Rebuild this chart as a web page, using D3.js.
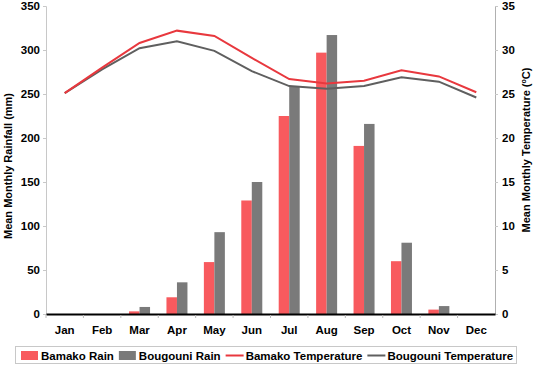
<!DOCTYPE html>
<html>
<head>
<meta charset="utf-8">
<script src="https://cdn.jsdelivr.net/npm/d3@7"></script>
<style>
  body { margin: 0; background: #fff; }
  text { font-family: "Liberation Sans", Arial, sans-serif; font-weight: bold; fill: #000; }
</style>
</head>
<body>
<div id="chart"></div>
<script>
const months = ["Jan","Feb","Mar","Apr","May","Jun","Jul","Aug","Sep","Oct","Nov","Dec"]
const bamakoRain = [0, 0, 3, 19, 59, 129, 225, 297, 191, 60, 5, 0]
const bougouniRain = [0, 0, 8, 36, 93, 150, 259, 317, 216, 81, 9, 0]
const bamakoTemp = [25.1, 28.0, 30.8, 32.2, 31.6, 29.1, 26.7, 26.2, 26.5, 27.7, 27.0, 25.2]
const bougouniTemp = [25.1, 27.8, 30.2, 31.0, 29.9, 27.6, 25.9, 25.6, 25.9, 26.9, 26.4, 24.6]
const rainTicks = [0, 50, 100, 150, 200, 250, 300, 350]
const tempTicks = [0, 5, 10, 15, 20, 25, 30, 35]

const CRED = "#f85a5e"
const CGRAY = "#7a7a7a"
const CREDLINE = "#e8383e"
const CGRAYLINE = "#5f5f5f"

const width = 536, height = 366
const mLeft = 46, mRight = 495, mTop = 6, mBottom = 314

const svg = d3.select("#chart").append("svg")
    .attr("width", width).attr("height", height)

const x = d3.scaleBand().domain(months).range([mLeft, mRight])
const xin = d3.scaleBand().domain([0, 1]).range([0, 21]).padding(0)
const yL = d3.scaleLinear().domain([0, 350]).range([mBottom, mTop])
const yR = d3.scaleLinear().domain([0, 35]).range([mBottom, mTop])

// left axis
const axL = svg.append("g").attr("transform", `translate(${mLeft},0)`)
    .call(d3.axisLeft(yL).tickValues(rainTicks).tickSize(3).tickPadding(3))
axL.select(".domain").attr("stroke", "#c8c8c8")
axL.selectAll(".tick line").attr("stroke", "#c8c8c8")
axL.selectAll(".tick text").attr("font-size", 11.5).style("font-family", "Liberation Sans").style("font-weight", "bold")

// right axis
const axR = svg.append("g").attr("transform", `translate(${mRight},0)`)
    .call(d3.axisRight(yR).tickValues(tempTicks).tickSize(3).tickPadding(4))
axR.select(".domain").attr("stroke", "#b0b0b0")
axR.selectAll(".tick line").attr("stroke", "#c8c8c8")
axR.selectAll(".tick text").attr("font-size", 11.5).style("font-family", "Liberation Sans").style("font-weight", "bold")

// bars
const groups = svg.append("g").selectAll("g").data(months).join("g")
    .attr("transform", d => `translate(${x(d) + (x.bandwidth() - 21) / 2},0)`)
groups.append("rect")
    .attr("x", xin(0)).attr("width", xin.bandwidth())
    .attr("y", (d, i) => yL(bamakoRain[i]))
    .attr("height", (d, i) => mBottom - yL(bamakoRain[i]))
    .attr("fill", CRED)
groups.append("rect")
    .attr("x", xin(1)).attr("width", xin.bandwidth())
    .attr("y", (d, i) => yL(bougouniRain[i]))
    .attr("height", (d, i) => mBottom - yL(bougouniRain[i]))
    .attr("fill", CGRAY)

// bottom axis
const axB = svg.append("g").attr("transform", `translate(0,${mBottom})`)
    .call(d3.axisBottom(x).tickSize(0).tickPadding(12))
axB.select(".domain").attr("stroke", "#000").attr("stroke-width", 2)
axB.selectAll(".tick text").attr("font-size", 11.5).style("font-family", "Liberation Sans").style("font-weight", "bold")
axB.append("g").selectAll("line").data(months).join("line")
    .attr("x1", d => x(d)).attr("x2", d => x(d))
    .attr("y1", 1).attr("y2", 4)
    .attr("stroke", "#bbb")

// temperature lines
const line = d3.line()
    .x((d, i) => x(months[i]) + x.bandwidth() / 2)
    .y(d => yR(d))
svg.append("path").datum(bougouniTemp).attr("d", line)
    .attr("fill", "none").attr("stroke", CGRAYLINE).attr("stroke-width", 2)
svg.append("path").datum(bamakoTemp).attr("d", line)
    .attr("fill", "none").attr("stroke", CREDLINE).attr("stroke-width", 2)

// axis titles
svg.append("text")
    .attr("transform", `translate(12,166) rotate(-90)`)
    .attr("text-anchor", "middle").attr("font-size", 11)
    .text("Mean Monthly Rainfall (mm)")
const rt = svg.append("text")
    .attr("transform", `translate(530,150) rotate(-90)`)
    .attr("text-anchor", "middle").attr("font-size", 11)
rt.append("tspan").text("Mean Monthly Temperature (")
rt.append("tspan").text("o").attr("font-size", 7).attr("dy", -4)
rt.append("tspan").text("C)").attr("dy", 4)

// legend
const leg = svg.append("g")
leg.append("rect").attr("x", 15.5).attr("y", 346.5).attr("width", 501).attr("height", 17)
    .attr("fill", "#fff").attr("stroke", "#c8c8c8")
const items = [
    { name: "Bamako Rain", type: "bar", color: CRED },
    { name: "Bougouni Rain", type: "bar", color: CGRAY },
    { name: "Bamako Temperature", type: "line", color: CREDLINE },
    { name: "Bougouni Temperature", type: "line", color: CGRAYLINE }
]
let lx = 21
items.forEach(it => {
    if (it.type === "bar") {
        leg.append("rect").attr("x", lx).attr("y", 351).attr("width", 17).attr("height", 9).attr("fill", it.color)
    } else {
        leg.append("line").attr("x1", lx).attr("x2", lx + 18).attr("y1", 355.5).attr("y2", 355.5)
            .attr("stroke", it.color).attr("stroke-width", 2)
    }
    const t = leg.append("text").attr("x", lx + 20).attr("y", 359.5).attr("font-size", 11.5).text(it.name)
    lx += 20 + t.node().getComputedTextLength() + 5
})
</script>
</body>
</html>
